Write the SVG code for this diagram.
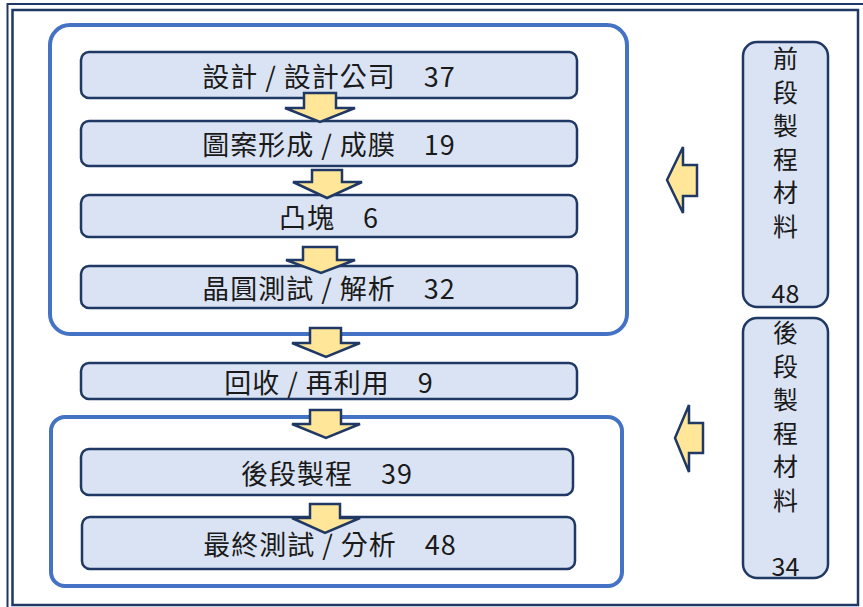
<svg xmlns="http://www.w3.org/2000/svg" width="863" height="607" viewBox="0 0 863 607">
<style>
.frame{fill:none;stroke:#1F3864}
.grp{fill:none;stroke:#4472C4;stroke-width:4}
.box{fill:#DAE3F3;stroke:#1F3864;stroke-width:2.5}
.arr{fill:#FFE699;stroke:#1F3864;stroke-width:2.5;stroke-linejoin:miter}
.t{font-family:"Noto Sans CJK TC","Noto Sans CJK SC",sans-serif;font-size:27px;letter-spacing:1px;fill:#1a1a1a;text-anchor:middle;dominant-baseline:central}
.v{font-family:"Noto Sans CJK TC","Noto Sans CJK SC",sans-serif;font-size:25px;fill:#1a1a1a;text-anchor:middle;dominant-baseline:central}
</style>
<rect width="863" height="607" fill="#fff"/>
<g id="frame">
<path class="frame" d="M863 4 H7.5 V607" stroke-width="2"/>
<rect class="frame" x="12.5" y="10" width="845.5" height="595" stroke-width="2.5"/>
</g>
<g id="group-front">
<rect class="grp" x="50" y="25" width="577" height="309" rx="20"/>
</g>
<g id="group-back">
<rect class="grp" x="51" y="417" width="571" height="169" rx="14"/>
</g>
<g id="n1"><rect class="box" x="81" y="52" width="496" height="46" rx="8"/><text class="t" x="329" y="75">設計 / 設計公司　37</text></g>
<g id="n2"><rect class="box" x="81" y="121" width="496" height="45" rx="8"/><text class="t" x="329" y="143.5">圖案形成 / 成膜　19</text></g>
<g id="n3"><rect class="box" x="81" y="195" width="496" height="42" rx="8"/><text class="t" x="329" y="216">凸塊　6</text></g>
<g id="n4"><rect class="box" x="81" y="266" width="496" height="42" rx="8"/><text class="t" x="329" y="287">晶圓測試 / 解析　32</text></g>
<g id="n5"><rect class="box" x="81" y="363" width="496" height="36" rx="8"/><text class="t" x="329" y="381">回收 / 再利用　9</text></g>
<g id="n6"><rect class="box" x="81" y="449" width="492" height="46" rx="8"/><text class="t" x="327" y="472">後段製程　39</text></g>
<g id="n7"><rect class="box" x="82" y="517" width="493" height="52" rx="8"/><text class="t" x="330" y="543">最終測試 / 分析　48</text></g>
<g id="n8"><rect class="box" x="743" y="42" width="85" height="265" rx="14"/>
<text class="v" x="785.5" y="57">前</text><text class="v" x="785.5" y="90.5">段</text><text class="v" x="785.5" y="124">製</text><text class="v" x="785.5" y="157.5">程</text><text class="v" x="785.5" y="191">材</text><text class="v" x="785.5" y="224.5">料</text><text class="v" x="785.5" y="292" font-size="26">48</text></g>
<g id="n9"><rect class="box" x="743" y="318" width="85" height="260" rx="14"/>
<text class="v" x="785.5" y="331">後</text><text class="v" x="785.5" y="364.5">段</text><text class="v" x="785.5" y="398">製</text><text class="v" x="785.5" y="431.5">程</text><text class="v" x="785.5" y="465">材</text><text class="v" x="785.5" y="498.5">料</text><text class="v" x="785.5" y="565" font-size="26">34</text></g>
<g id="connectors">
<polygon class="arr" points="304,93 336,93 336,108 355,108 320,122 285,108 304,108"/>
<polygon class="arr" points="312,170 342,170 342,182 362,182 327,198 293,182 312,182"/>
<polygon class="arr" points="303,247 337,247 337,260 355,260 321,273 286,260 303,260"/>
<polygon class="arr" points="310,328 341,328 341,343 360,343 326,357 292,343 310,343"/>
<polygon class="arr" points="310,410 341,410 341,424 360,424 326,438 292,424 310,424"/>
<polygon class="arr" points="310,504 340,504 340,518 360,518 325,533 292,518 310,518"/>
<polygon class="arr" points="697,165 683,165 683,147 667,180 683,213 683,196 697,196"/>
<polygon class="arr" points="703,423 689,423 689,405 675,438 689,472 689,453 703,453"/>
</g>
</svg>
